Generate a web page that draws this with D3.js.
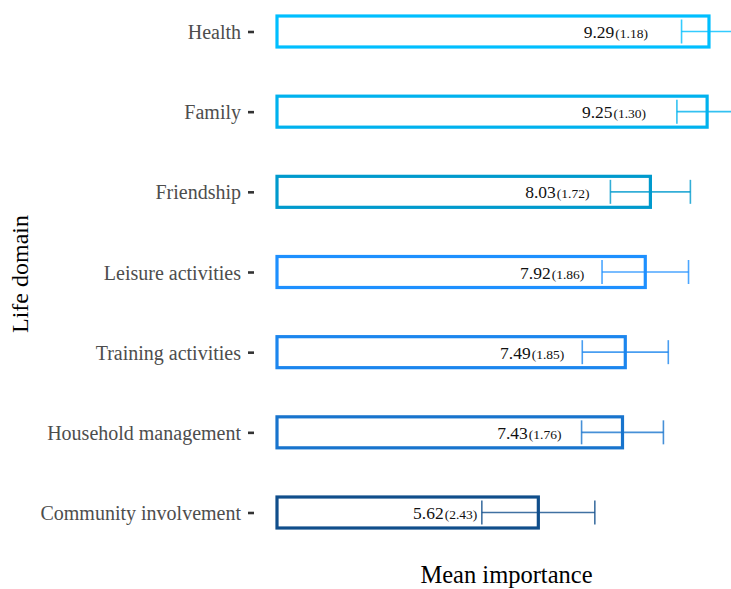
<!DOCTYPE html>
<html>
<head>
<meta charset="utf-8">
<script src="https://cdn.jsdelivr.net/npm/d3@7"></script>
<style>
  html, body { margin: 0; padding: 0; background: #ffffff; }
  svg { display: block; }
  text { font-family: "Palatino Linotype", "Book Antiqua", Palatino, "Liberation Serif", serif; }
</style>
</head>
<body>
<div id="chart"></div>
<script>
const categories = ["Health", "Family", "Friendship", "Leisure activities", "Training activities", "Household management", "Community involvement"];
const means = [9.29, 9.25, 8.03, 7.92, 7.49, 7.43, 5.62];
const sds = [1.18, 1.30, 1.72, 1.86, 1.85, 1.76, 2.43];
const barColors = ["#00BFFF", "#00B2EE", "#009ACD", "#1E90FF", "#1C86EE", "#1874CD", "#104E8B"];
const xTitle = "Mean importance";
const yTitle = "Life domain";

const data = categories.map((c, i) => ({ cat: c, mean: means[i], sd: sds[i], color: barColors[i] }));

const W = 731, H = 589;
const svg = d3.select("#chart").append("svg").attr("width", W).attr("height", H);

const x = d3.scaleLinear().domain([0, 10]).range([277, 742]);
const y = d3.scalePoint().domain(categories).range([31.5, 512.5]);
const barH = 31;

// y axis (ticks + labels only)
const yAxis = d3.axisLeft(y).tickSize(6).tickPadding(7);
const gy = svg.append("g").attr("transform", "translate(254,0)").call(yAxis);
gy.select(".domain").remove();
gy.selectAll(".tick line").attr("stroke", "#333333").attr("stroke-width", 2.6);
gy.selectAll(".tick text")
  .attr("fill", "#4D4D4D")
  .style("font-size", "20px")
  .style("font-family", "\"Palatino Linotype\", \"Book Antiqua\", Palatino, \"Liberation Serif\", serif")
  .attr("dy", "0.35em");

// bars
svg.append("g").selectAll("rect").data(data).join("rect")
  .attr("x", x(0))
  .attr("y", d => y(d.cat) - barH / 2)
  .attr("width", d => x(d.mean) - x(0))
  .attr("height", barH)
  .attr("fill", "#ffffff")
  .attr("stroke", d => d.color)
  .attr("stroke-width", 3.2);

// error bars (mean ± sd/2)
const eb = svg.append("g").selectAll("g").data(data).join("g")
  .attr("stroke", d => d.color)
  .attr("stroke-opacity", 0.8)
  .attr("stroke-width", 1.6);
eb.append("line")
  .attr("x1", d => x(d.mean - d.sd / 2)).attr("x2", d => x(d.mean + d.sd / 2))
  .attr("y1", d => y(d.cat)).attr("y2", d => y(d.cat));
eb.append("line")
  .attr("x1", d => x(d.mean - d.sd / 2)).attr("x2", d => x(d.mean - d.sd / 2))
  .attr("y1", d => y(d.cat) - 12).attr("y2", d => y(d.cat) + 12);
eb.append("line")
  .attr("x1", d => x(d.mean + d.sd / 2)).attr("x2", d => x(d.mean + d.sd / 2))
  .attr("y1", d => y(d.cat) - 12).attr("y2", d => y(d.cat) + 12);

// value labels
const lab = svg.append("g").selectAll("text").data(data).join("text")
  .attr("x", d => x(d.mean) - 61)
  .attr("y", d => y(d.cat) + 6.5)
  .attr("text-anchor", "end")
  .attr("fill", "#111111");
lab.append("tspan").style("font-size", "17.5px").text(d => d.mean.toFixed(2));
lab.append("tspan").style("font-size", "13.5px").attr("dx", 1).text(d => "(" + d.sd.toFixed(2) + ")");

// axis titles
svg.append("text")
  .attr("x", 506.5).attr("y", 583)
  .attr("text-anchor", "middle")
  .style("font-size", "24.5px")
  .attr("fill", "#000000")
  .text(xTitle);

svg.append("text")
  .attr("transform", "translate(28,274) rotate(-90)")
  .attr("text-anchor", "middle")
  .style("font-size", "24px")
  .attr("fill", "#000000")
  .text(yTitle);
</script>
</body>
</html>
